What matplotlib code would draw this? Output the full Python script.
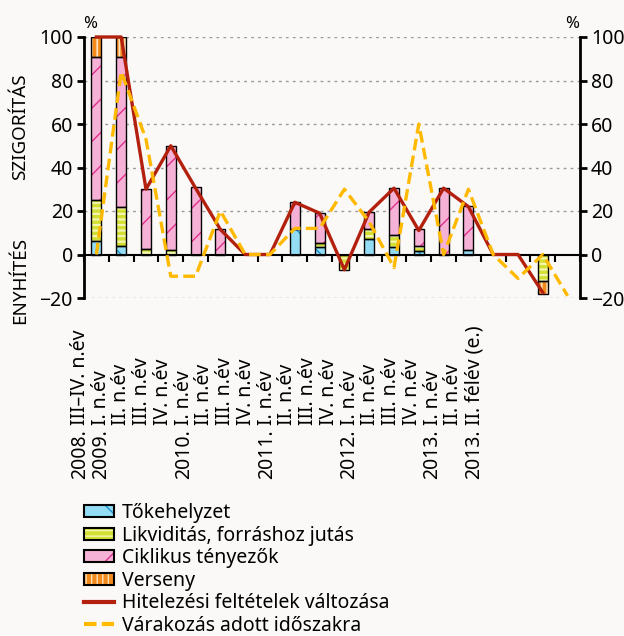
import numpy as np
import matplotlib
matplotlib.use("Agg")
import matplotlib.pyplot as plt
from matplotlib.patches import Patch
from matplotlib.lines import Line2D
from matplotlib.legend_handler import HandlerTuple

plt.rcParams['font.family'] = ['Noto Sans', 'DejaVu Sans']

years = ["2008.", "2009.", "", "", "", "2010.", "", "", "", "2011.", "", "", "",
         "2012.", "", "", "", "2013.", "", "2013."]
quarters = ["III\u2013IV. n.év", "I. n.év", "II. n.év", "III. n.év", "IV. n.év",
            "I. n.év", "II. n.év", "III. n.év", "IV. n.év",
            "I. n.év", "II. n.év", "III. n.év", "IV. n.év",
            "I. n.év", "II. n.év", "III. n.év", "IV. n.év",
            "I. n.év", "II. n.év", "II. félév (e.)"]

# contributions (percent)
tokehelyzet = [6, 4, 0, 0, 0, 0, 0, 0, 11.5, 3.5, 0, 7, 3.5, 1.5, 0, 2, 0, 0, 0, 0]
likviditas = [19, 18, 2.5, 2, 0, 0, 0, 0, 0, 2, -7, 4.5, 5.5, 2.5, 0, 0, 0, 0, -12, 0]
ciklikus = [66, 69, 27.5, 48, 31, 11.5, 0, 0, 12.5, 13.5, 0, 8, 21.5, 7.5, 30.5, 20.5, 0, 0, 0, 0]
verseny = [9, 9, 0, 0, 0, 0, 0, 0, 0, 0, 0, 0, 0, 0, 0, 0, 0, 0, -6, 0]

hitelezesi = [100, 100, 30, 50, 30.5, 11.5, 0, 0, 24, 19, -7, 19.5, 30.5, 11, 30.5, 22,
              0, 0, -17.5, np.nan]
varakozas = [0, 84, 53, -10, -10, 20, 0, 0, 12, 12, 30, 15, -6, 60, 0, 30, 0, -11, 0, -19]

bg = '#faf9f7'
red = '#b3200e'
yellow = '#ffb900'

layers = [
    ("Tőkehelyzet", tokehelyzet, '#93dcf3', '\\', '#1b8fcb', 1.0),
    ("Likviditás, forráshoz jutás", likviditas, '#d3df33', '---', '#f3f6b0', 1.6),
    ("Ciklikus tényezők", ciklikus, '#f6b1d6', '/', '#e0308c', 1.0),
    ("Verseny", verseny, '#f28a1c', '|||', '#fde2b8', 1.3),
]

fig = plt.figure(figsize=(6.24, 6.36), dpi=100, facecolor=bg)
ax = fig.add_axes([84 / 624, 1 - 298 / 636, 496 / 624, 261 / 636])
ax.set_facecolor(bg)

x = np.arange(len(quarters))
pos = np.zeros(len(x))
neg = np.zeros(len(x))
handles = []
for name, vals, fc, hatch, hc, hlw in layers:
    v = np.array(vals, dtype=float)
    bottom = np.where(v >= 0, pos, neg)
    m = v != 0
    with plt.rc_context({'hatch.linewidth': hlw}):
        ax.bar(x[m], v[m], 0.4, bottom=bottom[m], color=fc, hatch=hatch,
               edgecolor=hc, linewidth=0, zorder=2)
        ax.bar(x[m], v[m], 0.4, bottom=bottom[m], fill=False,
               edgecolor='black', linewidth=1.0, zorder=2.5)
        h = (Patch(facecolor=fc, hatch=hatch, edgecolor=hc, linewidth=0),
             Patch(fill=False, edgecolor='black', linewidth=1.5))
    handles.append(h)
    pos = pos + np.where(v > 0, v, 0)
    neg = neg + np.where(v < 0, v, 0)

ax.plot(x, hitelezesi, color=red, lw=2.4, zorder=4, clip_on=False)
ax.plot(x, varakozas, color=yellow, lw=2.4, ls=(0, (3.5, 1.6)), zorder=5, clip_on=False)

ax.set_xlim(-0.5, 19.5)
ax.set_ylim(-20, 100)
ax.set_yticks([-20, 0, 20, 40, 60, 80, 100])
for yv in [-20, 20, 40, 60, 80, 100]:
    ax.axhline(yv, color='#9a9a9a', lw=1, ls=(0, (2, 3)), zorder=0)

ax.spines['top'].set_visible(False)
ax.spines['bottom'].set_position(('data', 0))
ax.spines['bottom'].set_linewidth(1.5)
ax.spines['bottom'].set_zorder(3)
ax.spines['left'].set_linewidth(2)
ax.spines['right'].set_linewidth(2)
ax.set_xticks(np.arange(-0.5, 20, 1))
ax.set_xticklabels([])
ax.tick_params(axis='x', direction='out', length=5, width=1.5)
ax.yaxis.set_ticks_position('both')
ax.tick_params(axis='y', direction='out', length=5, width=2, labelsize=14,
               labelleft=True, labelright=True, pad=3)

fig.text(90 / 624, 1 - 24 / 636, '%', ha='center', va='center', fontsize=12)
fig.text(572 / 624, 1 - 24 / 636, '%', ha='center', va='center', fontsize=12)
fig.text(20 / 624, 1 - 127 / 636, 'SZIGORÍTÁS', rotation=90, ha='center', va='center', fontsize=13.5)
fig.text(20 / 624, 1 - 280 / 636, 'ENYHÍTÉS', rotation=90, ha='center', va='center', fontsize=13.5)

for i in range(len(quarters)):
    cx = (80 + 20.74 * i) / 624
    if years[i]:
        fig.text(cx, 1 - 479 / 636, years[i], rotation=90, ha='center', va='bottom', fontsize=14)
    fig.text(cx, 1 - 425 / 636, quarters[i], rotation=90, ha='center', va='bottom', fontsize=14)

handles.append(Line2D([], [], color=red, lw=3))
handles.append(Line2D([], [], color=yellow, lw=3, ls=(0, (3, 1.3))))
labels = [l[0] for l in layers] + ["Hitelezési feltételek változása", "Várakozás adott időszakra"]
fig.legend(handles, labels, loc='upper left', bbox_to_anchor=(84 / 624, 1 - 503 / 636),
           frameon=False, fontsize=14, handlelength=1.55, handleheight=0.55,
           handletextpad=0.4, labelspacing=0.13, borderaxespad=0, borderpad=0,
           handler_map={tuple: HandlerTuple(ndivide=1, pad=0)})

fig.savefig('out.png', dpi=100, facecolor=bg)
